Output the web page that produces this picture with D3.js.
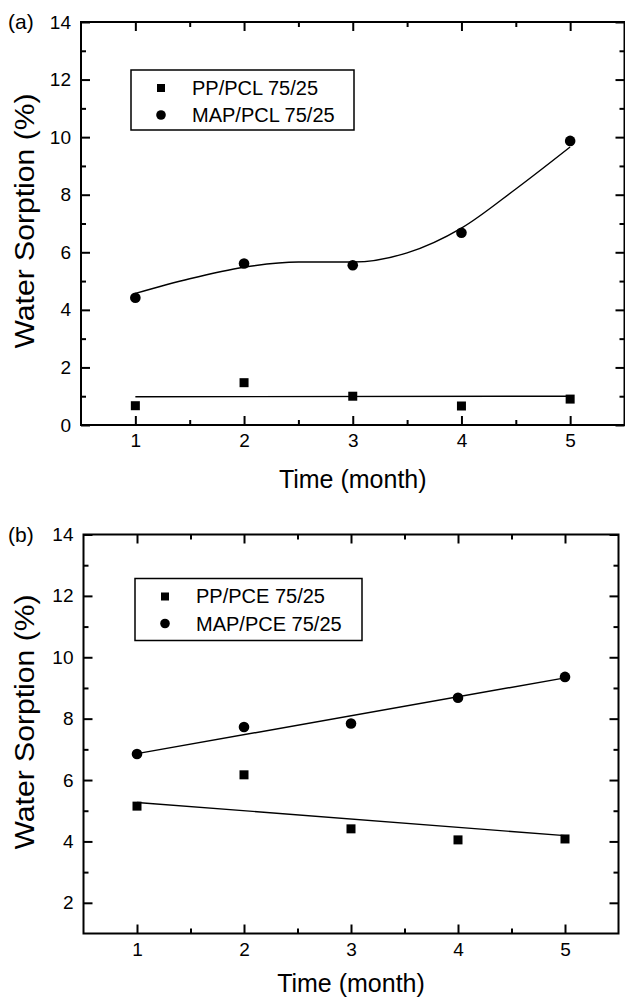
<!DOCTYPE html>
<html>
<head>
<meta charset="utf-8">
<script src="https://cdn.jsdelivr.net/npm/d3@7"></script>
<style>
  body { margin: 0; background: #fff; }
  svg { display: block; font-family: "Liberation Sans", Arial, sans-serif; }
</style>
</head>
<body>
<svg id="chart"></svg>
<script>
// Data: months on the x axis
const months = [1, 2, 3, 4, 5];

// Panel (a) measured points
const ppPCL = [0.67, 1.47, 1.0, 0.66, 0.9];
const mapPCL = [4.42, 5.61, 5.55, 6.68, 9.87];

// Panel (a) fitted curves
const fitMapPCLx = [1, 1.5, 2, 2.5, 3, 3.5, 4, 4.5, 5];
const fitMapPCLy = [4.57, 5.08, 5.48, 5.66, 5.66, 5.98, 6.84, 8.2, 9.66];
const fitPpPCLx = [1, 5];
const fitPpPCLy = [0.98, 1.0];

// Panel (b) measured points
const ppPCE = [5.15, 6.17, 4.41, 4.05, 4.08];
const mapPCE = [6.85, 7.73, 7.84, 8.68, 9.36];

// Panel (b) fitted lines
const fitMapPCEx = [1, 5];
const fitMapPCEy = [6.86, 9.33];
const fitPpPCEx = [1, 5];
const fitPpPCEy = [5.27, 4.19];

// Tick values
const xTicks = [1, 2, 3, 4, 5];
const xMinor = [1.5, 2.5, 3.5, 4.5];
const yTicksA = [0, 2, 4, 6, 8, 10, 12, 14];
const yMinorA = [1, 3, 5, 7, 9, 11, 13];
const yTicksB = [2, 4, 6, 8, 10, 12, 14];
const yMinorB = [3, 5, 7, 9, 11, 13];

const width = 625;
const height = 998;
const font = "'Liberation Sans', Arial, sans-serif";

const svg = d3.select("#chart")
    .attr("width", width)
    .attr("height", height);

const zip = (xs, ys) => xs.map((x, i) => ({ x: x, y: ys[i] }));

function drawPanel(p) {
    const g = svg.append("g");

    const x = d3.scaleLinear().domain([0.5, 5.5]).range([p.left, p.right]);
    const y = d3.scaleLinear().domain(p.yDomain).range([p.bottom, p.top]);

    // major / minor ticks, all pointing inwards
    const addAxis = (axis, transform, labels) => {
        const a = g.append("g")
            .attr("transform", transform)
            .call(axis)
            .attr("font-family", font)
            .attr("font-size", 19);
        a.select(".domain").remove();
        a.selectAll(".tick line").attr("stroke", "#000").attr("stroke-width", 2);
        if (!labels) a.selectAll("text").remove();
        else a.selectAll("text").attr("fill", "#000");
        return a;
    };

    addAxis(d3.axisBottom(x).tickValues(xTicks).tickSize(-9).tickPadding(9).tickFormat(d3.format("d")),
        `translate(0,${p.bottom})`, true);
    addAxis(d3.axisBottom(x).tickValues(xMinor).tickSize(-5), `translate(0,${p.bottom})`, false);
    addAxis(d3.axisTop(x).tickValues(xTicks).tickSize(-9), `translate(0,${p.top})`, false);
    addAxis(d3.axisTop(x).tickValues(xMinor).tickSize(-5), `translate(0,${p.top})`, false);

    addAxis(d3.axisLeft(y).tickValues(p.yTicks).tickSize(-9).tickPadding(10).tickFormat(d3.format("d")),
        `translate(${p.left},0)`, true);
    addAxis(d3.axisLeft(y).tickValues(p.yMinor).tickSize(-5), `translate(${p.left},0)`, false);
    addAxis(d3.axisRight(y).tickValues(p.yTicks).tickSize(-9), `translate(${p.right},0)`, false);
    addAxis(d3.axisRight(y).tickValues(p.yMinor).tickSize(-5), `translate(${p.right},0)`, false);

    // frame
    g.append("rect")
        .attr("x", p.left)
        .attr("y", p.top)
        .attr("width", p.right - p.left)
        .attr("height", p.bottom - p.top)
        .attr("fill", "none")
        .attr("stroke", "#000")
        .attr("stroke-width", 2);

    // fitted lines
    const line = d3.line().x(d => x(d.x)).y(d => y(d.y));
    p.fits.forEach(f => {
        g.append("path")
            .datum(f.data)
            .attr("d", line.curve(f.smooth ? d3.curveMonotoneX : d3.curveLinear))
            .attr("fill", "none")
            .attr("stroke", "#000")
            .attr("stroke-width", 1.4);
    });

    // squares
    g.selectAll(".sq")
        .data(zip(months, p.squares))
        .enter()
        .append("rect")
        .attr("x", d => x(d.x) - 4.5)
        .attr("y", d => y(d.y) - 4.5)
        .attr("width", 9)
        .attr("height", 9)
        .attr("fill", "#000");

    // circles
    g.selectAll(".ci")
        .data(zip(months, p.circles))
        .enter()
        .append("circle")
        .attr("cx", d => x(d.x))
        .attr("cy", d => y(d.y))
        .attr("r", 5.3)
        .attr("fill", "#000");

    // legend
    const lg = g.append("g");
    lg.append("rect")
        .attr("x", p.legend.x)
        .attr("y", p.legend.y)
        .attr("width", p.legend.w)
        .attr("height", p.legend.h)
        .attr("fill", "#fff")
        .attr("stroke", "#000")
        .attr("stroke-width", 1.5);
    lg.append("rect")
        .attr("x", p.legend.x + 26)
        .attr("y", p.legend.y + 14)
        .attr("width", 8)
        .attr("height", 8)
        .attr("fill", "#000");
    lg.append("circle")
        .attr("cx", p.legend.x + 30)
        .attr("cy", p.legend.y + 45)
        .attr("r", 4.8)
        .attr("fill", "#000");
    lg.selectAll(".lt")
        .data(p.legend.labels)
        .enter()
        .append("text")
        .attr("x", p.legend.x + 61)
        .attr("y", (d, i) => p.legend.y + 24.5 + i * 27.5)
        .style("font-size", "20px")
        .attr("fill", "#000")
        .text(d => d);

    // axis titles
    g.append("text")
        .attr("x", (p.left + p.right) / 2)
        .attr("y", p.xTitleY)
        .attr("text-anchor", "middle")
        .style("font-size", "25px")
        .attr("fill", "#000")
        .text("Time (month)");

    g.append("text")
        .attr("transform", `translate(34,${p.yTitleY}) rotate(-90)`)
        .attr("text-anchor", "middle")
        .attr("textLength", 255)
        .attr("lengthAdjust", "spacingAndGlyphs")
        .style("font-size", "27px")
        .attr("fill", "#000")
        .text("Water Sorption (%)");

    // panel label
    g.append("text")
        .attr("x", 8)
        .attr("y", p.tagY)
        .style("font-size", "21px")
        .attr("fill", "#000")
        .text(p.tag);
}

drawPanel({
    left: 81, right: 624.5, top: 22, bottom: 425,
    yDomain: [0, 14], yTicks: yTicksA, yMinor: yMinorA,
    squares: ppPCL, circles: mapPCL,
    fits: [
        { data: zip(fitMapPCLx, fitMapPCLy), smooth: true },
        { data: zip(fitPpPCLx, fitPpPCLy), smooth: false }
    ],
    legend: { x: 131, y: 70, w: 223, h: 60, labels: ["PP/PCL 75/25", "MAP/PCL 75/25"] },
    xTitleY: 488, yTitleY: 221, tag: "(a)", tagY: 29
});

drawPanel({
    left: 83.5, right: 618.5, top: 534.5, bottom: 933.5,
    yDomain: [1, 14], yTicks: yTicksB, yMinor: yMinorB,
    squares: ppPCE, circles: mapPCE,
    fits: [
        { data: zip(fitMapPCEx, fitMapPCEy), smooth: false },
        { data: zip(fitPpPCEx, fitPpPCEy), smooth: false }
    ],
    legend: { x: 135, y: 578.5, w: 227, h: 62, labels: ["PP/PCE 75/25", "MAP/PCE 75/25"] },
    xTitleY: 992, yTitleY: 722, tag: "(b)", tagY: 542
});
</script>
</body>
</html>
